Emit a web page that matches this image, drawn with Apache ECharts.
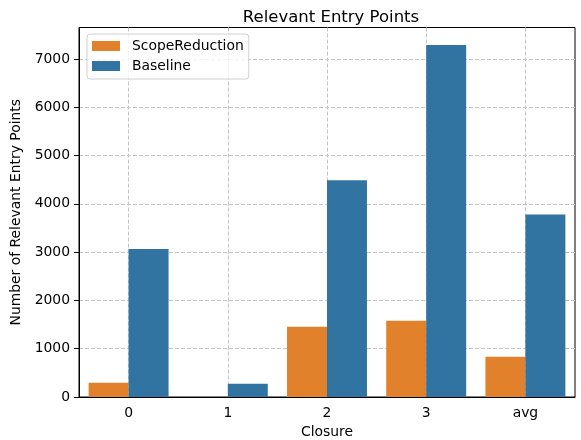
<!DOCTYPE html>
<html>
<head>
<meta charset="utf-8">
<script src="https://cdn.jsdelivr.net/npm/echarts@6/dist/echarts.min.js"></script>
<style>
  html, body { margin: 0; padding: 0; background: #fff; }
  #chart { width: 581px; height: 440px; }
</style>
</head>
<body>
<div id="chart"></div>
<script>
// Closures and the relevant entry point counts for each approach
const closures = ['0', '1', '2', '3', 'avg'];
const scopeReduction = [296, 0, 1455, 1580, 833];
const baseline = [3062, 275, 4490, 7290, 3779];
const yTicks = [0, 1000, 2000, 3000, 4000, 5000, 6000, 7000];

const FONT = 'DejaVu Sans';
const gridStyle = { color: '#c4c4c4', width: 1, type: [4, 2] };

const chart = echarts.init(document.getElementById('chart'), null, { renderer: 'canvas' });

chart.setOption({
  animation: false,
  backgroundColor: '#ffffff',
  textStyle: { fontFamily: FONT, color: '#000' },
  title: {
    text: 'Relevant Entry Points',
    left: 326,
    textAlign: 'center',
    top: 4,
    textStyle: { fontFamily: FONT, fontSize: 16.5, fontWeight: 'normal', color: '#000' }
  },
  legend: {
    orient: 'vertical',
    left: 87,
    top: 34,
    padding: [4, 5, 5, 5],
    itemWidth: 28,
    itemHeight: 10,
    itemGap: 4,
    icon: 'rect',
    backgroundColor: 'rgba(255,255,255,0.8)',
    borderColor: '#d0d0d0',
    borderWidth: 1,
    borderRadius: 3,
    textStyle: { fontFamily: FONT, fontSize: 13.9, color: '#000', lineHeight: 16, padding: [0, 0, 0, 7] },
    data: ['ScopeReduction', 'Baseline']
  },
  grid: {
    left: 79, right: 6, top: 27.5, bottom: 43,
    outerBoundsMode: 'none',
    containLabel: false,
    show: true, borderColor: '#000', borderWidth: 1, backgroundColor: 'transparent'
  },
  xAxis: {
    type: 'category',
    data: closures,
    name: 'Closure',
    nameLocation: 'middle',
    nameGap: 27,
    nameTextStyle: { fontFamily: FONT, fontSize: 13.9, color: '#000' },
    axisLine: { lineStyle: { color: '#000', width: 1 } },
    axisTick: { alignWithLabel: true, length: 5, lineStyle: { color: '#000' } },
    axisLabel: { fontFamily: FONT, fontSize: 13.9, color: '#000', margin: 9 },
    splitLine: { show: true, alignWithLabel: true, lineStyle: gridStyle }
  },
  yAxis: {
    type: 'value',
    min: 0,
    max: 7650,
    interval: 1000,
    name: 'Number of Relevant Entry Points',
    nameLocation: 'middle',
    nameGap: 46,
    nameTextStyle: { fontFamily: FONT, fontSize: 13.9, color: '#000' },
    axisLine: { show: true, lineStyle: { color: '#000', width: 1 } },
    axisTick: { show: true, length: 5, lineStyle: { color: '#000' }, customValues: yTicks },
    axisLabel: {
      fontFamily: FONT, fontSize: 13.9, color: '#000', margin: 9, customValues: yTicks,
      formatter: (v) => String(v)
    },
    splitLine: { show: true, lineStyle: gridStyle }
  },
  series: [
    {
      name: 'ScopeReduction',
      type: 'bar',
      data: scopeReduction,
      barGap: '0%',
      barCategoryGap: '19.4%',
      itemStyle: { color: '#e1812c' }
    },
    {
      name: 'Baseline',
      type: 'bar',
      data: baseline,
      barGap: '0%',
      barCategoryGap: '19.4%',
      itemStyle: { color: '#3274a1' }
    }
  ]
});
</script>
</body>
</html>
